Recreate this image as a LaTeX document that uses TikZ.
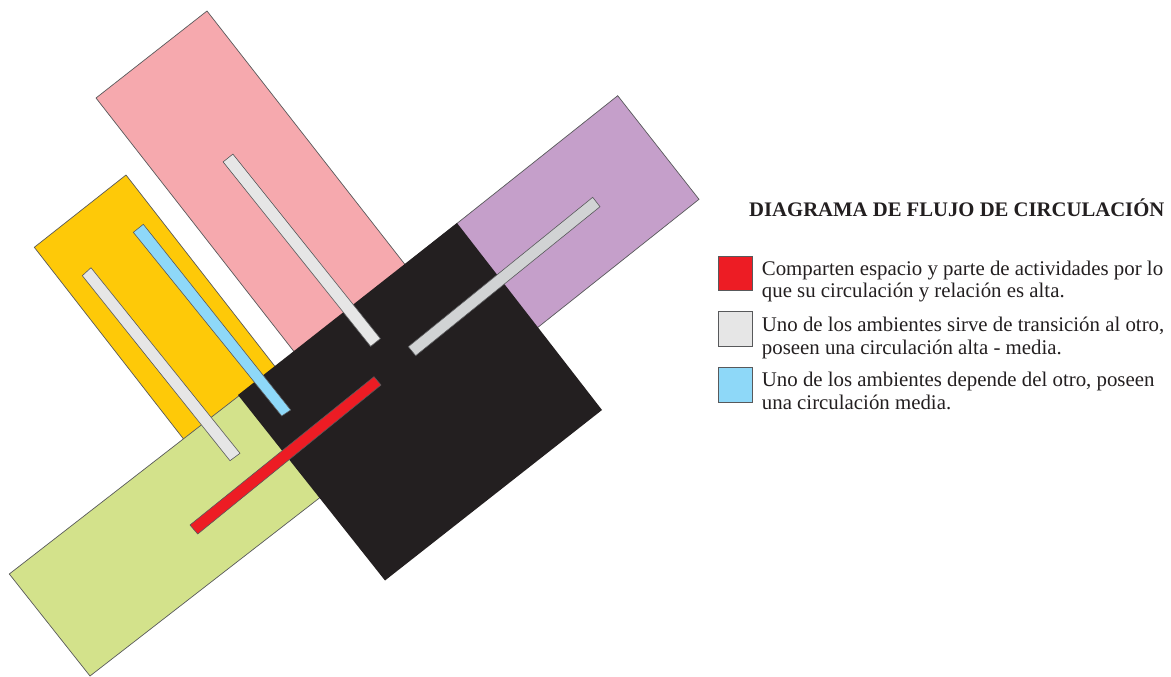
\documentclass[tikz,border=0pt]{standalone}
\usepackage{fontspec}
\setmainfont{Liberation Serif}
\definecolor{pinkc}{HTML}{F6A9AE}
\definecolor{purplec}{HTML}{C59FCA}
\definecolor{yellowc}{HTML}{FEC908}
\definecolor{greenc}{HTML}{D3E28B}
\definecolor{blackc}{HTML}{231F20}
\definecolor{lgray}{HTML}{E6E6E6}
\definecolor{mgray}{HTML}{D1D3D4}
\definecolor{bluec}{HTML}{8ED8F8}
\definecolor{redc}{HTML}{ED1C24}
\definecolor{edgec}{HTML}{58595B}
\begin{document}
\begin{tikzpicture}[x=1pt,y=-1pt,
  room/.style={draw=edgec,line width=0.7pt,line join=miter},
  barshape/.style={draw=edgec,line width=0.6pt},
  legbox/.style={draw=edgec,line width=0.8pt},
  legtext/.style={anchor=base west,inner sep=0pt,text=blackc,font=\fontsize{20.85}{23}\selectfont},
]
\useasboundingbox (0,0) rectangle (1171,677);
% pink room
\filldraw[room,fill=pinkc] (207,11) -- (453,326) -- (342,413) -- (96,98) -- cycle;
% purple room
\filldraw[room,fill=purplec] (617.7,95.7) -- (699,199.3) -- (479.8,373.5) -- (398.5,269.9) -- cycle;
% yellow room
\filldraw[room,fill=yellowc] (126,175) -- (304,403.8) -- (212.4,476.1) -- (34.3,247.3) -- cycle;
% green room
\filldraw[room,fill=greenc] (9.3,574) -- (90,676) -- (350.7,473.7) -- (270,371.7) -- cycle;
% black room
\fill[blackc] (238,395) -- (457,223) -- (602,410) -- (385,580.5) -- cycle;
% bars
\filldraw[barshape,fill=lgray] (223.1,161.9) -- (232.9,154.1) -- (380.4,338.6) -- (370.6,346.4) -- cycle;
\filldraw[barshape,fill=mgray] (592.7,197.3) -- (600,206.7) -- (415.7,355.7) -- (408.3,346.7) -- cycle;
\filldraw[barshape,fill=lgray] (82.3,275.7) -- (91,267.7) -- (240,453.3) -- (230,460.7) -- cycle;
\filldraw[barshape,fill=bluec] (133.3,232.3) -- (143.3,224.3) -- (290.7,410) -- (281.7,416) -- cycle;
\filldraw[barshape,fill=redc] (190,525) -- (374,376.7) -- (381,385) -- (197.7,534) -- cycle;
% legend
\node[anchor=base west,inner sep=0pt,text=blackc,font=\fontsize{20.7}{24}\selectfont\bfseries] (title) at (749,216) {DIAGRAMA DE FLUJO DE CIRCULACIÓN};
\filldraw[legbox,fill=redc] (718.3,256.7) rectangle (752.3,290.7);
\filldraw[legbox,fill=lgray] (718.3,311.7) rectangle (752.3,346.7);
\filldraw[legbox,fill=bluec] (718.3,367.7) rectangle (752.3,402.7);
\node[legtext] (r1) at (761.7,275) {Comparten espacio y parte de actividades por lo};
\node[legtext] (r2) at (761.7,297.5) {que su circulación y relación es alta.};
\node[legtext] (g1) at (761.7,331.7) {Uno de los ambientes sirve de transición al otro,};
\node[legtext] (g2) at (761.7,354.2) {poseen una circulación alta - media.};
\node[legtext] (b1) at (761.7,386.7) {Uno de los ambientes depende del otro, poseen};
\node[legtext] (b2) at (761.7,409.2) {una circulación media.};
\end{tikzpicture}
\end{document}
